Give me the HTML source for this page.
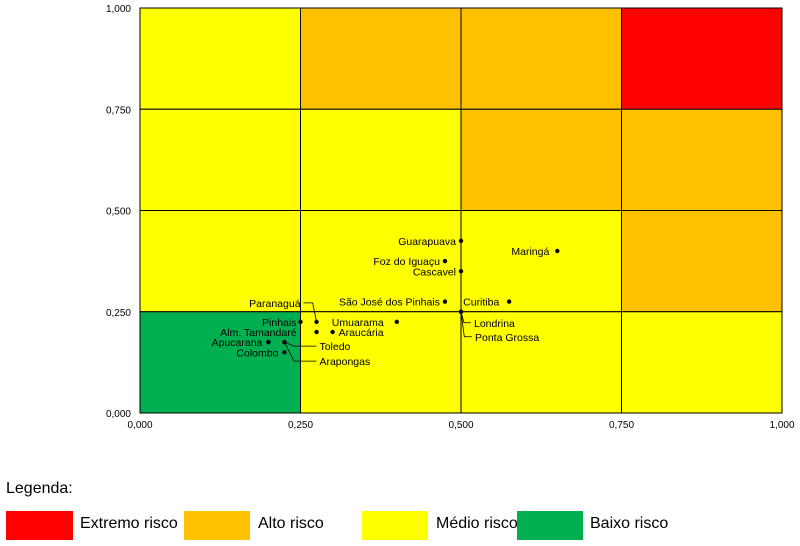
<!DOCTYPE html>
<html><head><meta charset="utf-8"><style>
body{margin:0;width:800px;height:546px;background:#fff;font-family:"Liberation Sans",sans-serif;overflow:hidden}
svg{position:absolute;left:0;top:0}
.lt{position:absolute;top:515px;font-size:16px;white-space:nowrap}
</style></head><body>
<svg id="c" width="800" height="546"></svg>
<script>
const xTicks=[0,0.25,0.5,0.75,1];
const yTicks=[0,0.25,0.5,0.75,1];
const tickLabels=["0,000","0,250","0,500","0,750","1,000"];
const cellLevels=[["m","a","a","e"],["m","m","a","a"],["m","m","m","a"],["b","m","m","m"]];
const cities=["Guarapuava","Maringá","Foz do Iguaçu","Cascavel","São José dos Pinhais","Curitiba","Londrina","Ponta Grossa","Paranaguá","Pinhais","Umuarama","Alm. Tamandaré","Araucária","Apucarana","Toledo","Colombo","Arapongas"];
const xVals=[0.5,0.65,0.475,0.5,0.475,0.575,0.5,0.5,0.275,0.25,0.4,0.275,0.3,0.2,0.225,0.225,0.225];
const yVals=[0.425,0.4,0.375,0.35,0.275,0.275,0.25,0.25,0.225,0.225,0.225,0.2,0.2,0.175,0.175,0.15,0.175];
const colors={e:"#ff0000",a:"#ffc000",m:"#ffff00",b:"#00b050"};
const X0=140,X1=782,Y0=413,Y1=8;
const sx=v=>X0+v*(X1-X0), sy=v=>Y0-v*(Y0-Y1);
const svg=document.getElementById('c');
const NS="http://www.w3.org/2000/svg";
function mk(t,a,p){const e=document.createElementNS(NS,t);for(const k in a)e.setAttribute(k,a[k]);(p||svg).appendChild(e);return e;}
cellLevels.forEach((row,r)=>row.forEach((lv,c)=>{
 const e=mk('rect',{x:sx(c*0.25),y:sy(1-r*0.25),width:sx(0.25)-sx(0),height:sy(0)-sy(0.25),fill:colors[lv],stroke:"#000","stroke-width":1});
 
 
}));
xTicks.forEach((v,i)=>{const t=mk('text',{x:sx(v),y:428,"font-size":10,"text-anchor":"middle"});t.textContent=tickLabels[i];
 
 });
yTicks.forEach((v,i)=>{const t=mk('text',{x:131,y:sy(v)+4,"font-size":10,"text-anchor":"end"});t.textContent=tickLabels[i];
 
 });
const lab={"Guarapuava":[-5,4,"end"],"Maringá":[-8,4,"end"],"Foz do Iguaçu":[-5,4,"end"],"Cascavel":[-5,4,"end"],"São José dos Pinhais":[-5,4,"end"],"Curitiba":[-46,4,"start"],
"Londrina":[13,15,"start",1],"Ponta Grossa":[14,29,"start",1],"Paranaguá":[-16,-15,"end",1],"Pinhais":[-4,4,"end"],"Umuarama":[-65,4,"start"],
"Alm. Tamandaré":[-20,4,"end"],"Araucária":[6,4,"start"],"Apucarana":[-6,4,"end"],"Toledo":[35,8,"start",1],"Colombo":[-6,4,"end"],"Arapongas":[35,23,"start",1]};
cities.forEach((n,i)=>{
 const px=sx(xVals[i]),py=sy(yVals[i]);
 const d=mk('circle',{cx:px,cy:py,r:2.2,fill:"#000"});
 
 
 const L=lab[n];
 let tx=px+L[0],ty=py+L[1];
 if(L[3]){
  let lx=L[2]==="end"?tx+3:tx-3;
  const l=mk('polyline',{points:`${px},${py} ${px+(lx-px)*0.3},${ty-4} ${lx},${ty-4}`,fill:"none",stroke:"#000","stroke-width":0.8});
  
  
 }
 const t=mk('text',{x:tx,y:ty,"font-size":10.5,"text-anchor":L[2]});t.textContent=n;
 
 
});
</script>
<div style="position:absolute;left:0;top:0;font-family:'Liberation Sans',sans-serif">
<div style="position:absolute;left:6px;top:480px;font-size:16px;white-space:nowrap">Legenda:</div>
<div><div style="position:absolute;left:6px;top:511px;width:67px;height:29px;background:#ff0000"></div><div class="lt" style="left:80px">Extremo risco</div></div>
<div><div style="position:absolute;left:184px;top:511px;width:66px;height:29px;background:#ffc000"></div><div class="lt" style="left:258px">Alto risco</div></div>
<div><div style="position:absolute;left:362px;top:511px;width:66px;height:29px;background:#ffff00"></div><div class="lt" style="left:436px">Médio risco</div></div>
<div><div style="position:absolute;left:517px;top:511px;width:66px;height:29px;background:#00b050"></div><div class="lt" style="left:590px">Baixo risco</div></div>
</div>
</body></html>
